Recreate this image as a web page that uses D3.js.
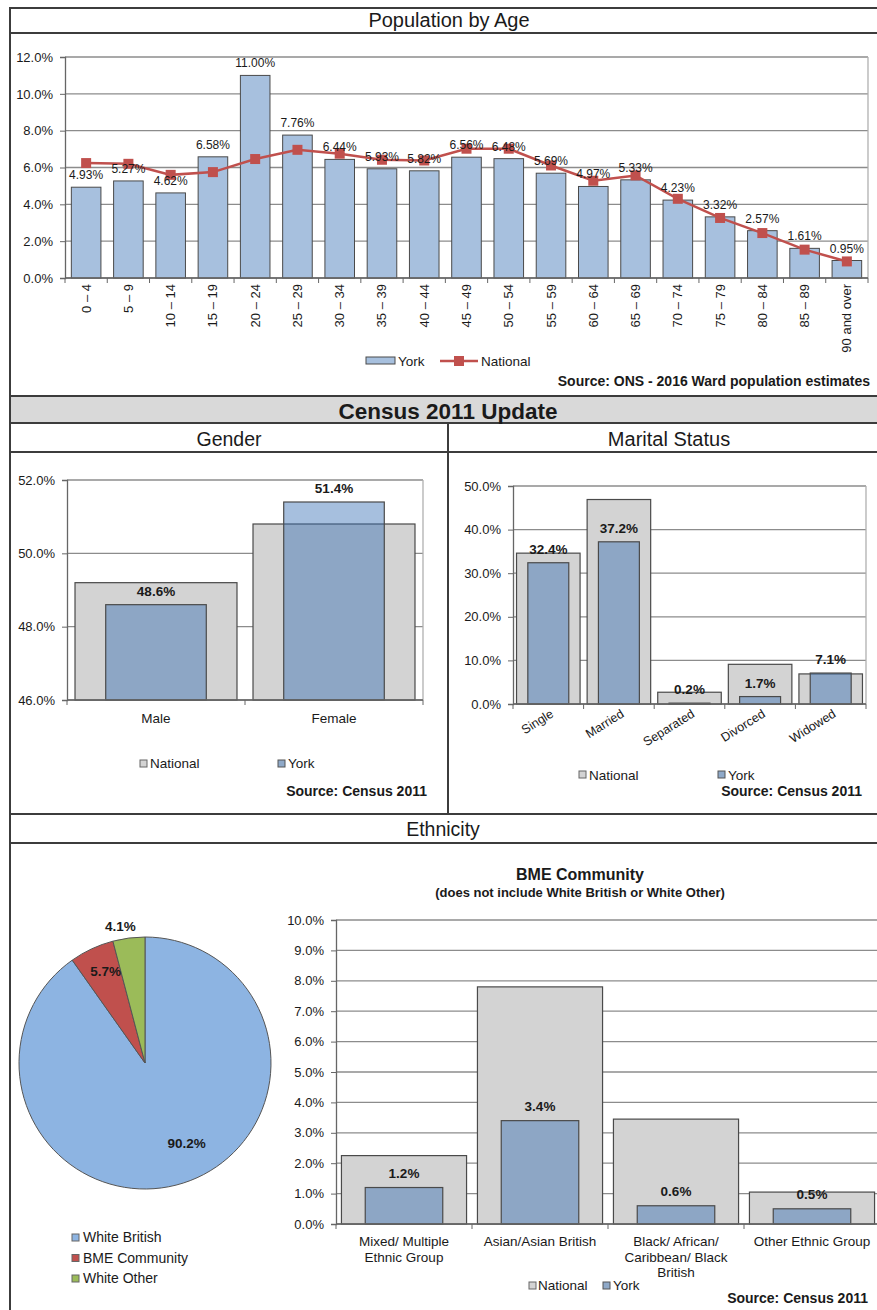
<!DOCTYPE html>
<html><head><meta charset="utf-8">
<script src="https://cdn.jsdelivr.net/npm/d3@7/dist/d3.min.js"></script>
<style>
body{margin:0;background:#fff;}
svg{display:block;font-family:"Liberation Sans",Arial,sans-serif;}
</style></head>
<body>
<svg id="c" width="877" height="1310"></svg>
<script>
// ---------- DATA ----------
const ageGroups = ["0 – 4","5 – 9","10 – 14","15 – 19","20 – 24","25 – 29","30 – 34","35 – 39","40 – 44","45 – 49","50 – 54","55 – 59","60 – 64","65 – 69","70 – 74","75 – 79","80 – 84","85 – 89","90 and over"];
const ageYork = [4.93,5.27,4.62,6.58,11.00,7.76,6.44,5.93,5.82,6.56,6.48,5.69,4.97,5.33,4.23,3.32,2.57,1.61,0.95];
const ageNational = [6.24,6.2,5.6,5.75,6.46,6.96,6.75,6.42,6.38,7.02,7.02,6.11,5.28,5.57,4.3,3.26,2.44,1.54,0.9];
const ageTicks = [0,2,4,6,8,10,12];

const genderCats = ["Male","Female"];
const genderNational = [49.2,50.8];
const genderYork = [48.6,51.4];
const genderTicks = [46,48,50,52];

const maritalCats = ["Single","Married","Separated","Divorced","Widowed"];
const maritalNational = [34.6,46.9,2.7,9.1,6.9];
const maritalYork = [32.4,37.2,0.2,1.7,7.1];
const maritalTicks = [0,10,20,30,40,50];

const ethnicCats = ["White British","BME Community","White Other"];
const ethnicValues = [90.2,5.7,4.1];

const bmeCats = [["Mixed/ Multiple","Ethnic Group"],["Asian/Asian British"],["Black/ African/","Caribbean/ Black","British"],["Other Ethnic Group"]];
const bmeNational = [2.25,7.8,3.45,1.05];
const bmeYork = [1.2,3.4,0.6,0.5];
const bmeTicks = [0,1,2,3,4,5,6,7,8,9,10];

// ---------- STYLE ----------
const FRAME="#3c3c3c", GRID="#8c8c8c", TXT="#1a1a1a";
const GRAY="#d3d3d3", YORK_OVER="rgba(52,109,181,0.44)", BAR_EDGE="#4a4a4a";
const TICK=13, LEG=13.5, SRC=14, LAB=13.5;
const svg = d3.select("#c");
const pct1 = d => d3.format(".1f")(d)+"%";

// ---------- FRAME ----------
const fr = svg.append("g");
fr.append("rect").attr("x",10).attr("y",396).attr("width",880).attr("height",27).attr("fill","#d9d9d9");
function hline(y){fr.append("line").attr("x1",10).attr("x2",890).attr("y1",y).attr("y2",y).attr("stroke",FRAME).attr("stroke-width",2);}
[8,33,396,423,452,814,843].forEach(hline);
fr.append("line").attr("x1",10).attr("x2",10).attr("y1",7).attr("y2",1310).attr("stroke",FRAME).attr("stroke-width",2);
fr.append("line").attr("x1",448).attr("x2",448).attr("y1",423).attr("y2",814).attr("stroke",FRAME).attr("stroke-width",2);
function head(t,x,y,size,bold){svg.append("text").attr("x",x).attr("y",y).attr("text-anchor","middle").attr("font-size",size).attr("font-weight",bold?"bold":"normal").attr("fill",TXT).text(t);}
head("Population by Age",449,27,20,false);
head("Census 2011 Update",448,419,22.5,true);
head("Gender",229,446,19.5,false);
head("Marital Status",669,446,20,false);
head("Ethnicity",443,836,19.5,false);

function txt(g,t,x,y,o={}){return g.append("text").attr("x",x).attr("y",y).attr("text-anchor",o.anchor||"start").attr("font-size",o.size||LEG).attr("font-weight",o.bold?"bold":"normal").attr("fill",TXT).text(t);}

function yAxis(g,y,ticks,x0,x1,fmt){
  g.selectAll(null).data(ticks).join("line").attr("x1",x0).attr("x2",x1).attr("y1",d=>y(d)).attr("y2",d=>y(d)).attr("stroke",GRID).attr("stroke-width",1.3);
  g.append("line").attr("x1",x1).attr("x2",x1).attr("y1",y(ticks[ticks.length-1])).attr("y2",y(ticks[0])).attr("stroke","#b0b0b0").attr("stroke-width",1.3);
  const ax = g.append("g").attr("transform",`translate(${x0},0)`).call(d3.axisLeft(y).tickValues(ticks).tickFormat(fmt).tickSize(5).tickPadding(7));
  ax.select(".domain").attr("stroke","#666").attr("stroke-width",1.3);
  ax.selectAll(".tick line").attr("stroke","#666");
  ax.selectAll("text").attr("font-size",TICK).attr("fill",TXT).attr("font-family","Liberation Sans,Arial,sans-serif");
}
function xBase(g,x,cats,yb,x0,x1){
  g.append("line").attr("x1",x0).attr("x2",x1).attr("y1",yb).attr("y2",yb).attr("stroke","#666").attr("stroke-width",1.3);
  const edges = cats.map(c=>x(c)).concat([x1]);
  g.selectAll(null).data(edges).join("line").attr("x1",d=>d).attr("x2",d=>d).attr("y1",yb).attr("y2",yb+5).attr("stroke","#666");
}

// ---------- POPULATION BY AGE ----------
{
  const g = svg.append("g");
  const x = d3.scaleBand().domain(ageGroups).range([65,868]);
  const y = d3.scaleLinear().domain([0,12]).range([278,57]);
  yAxis(g,y,ageTicks,65,868,d=>d3.format(".1f")(d)+"%");
  const bw = x.bandwidth()*0.7;
  g.selectAll(null).data(ageGroups).join("rect")
    .attr("x",d=>x(d)+x.bandwidth()/2-bw/2).attr("width",bw)
    .attr("y",(d,i)=>y(ageYork[i])).attr("height",(d,i)=>y(0)-y(ageYork[i]))
    .attr("fill","#a7c0de").attr("stroke",BAR_EDGE).attr("stroke-width",1);
  xBase(g,x,ageGroups,278,65,868);
  const line = d3.line().x((d,i)=>x(ageGroups[i])+x.bandwidth()/2).y(d=>y(d));
  g.append("path").datum(ageNational).attr("d",line).attr("fill","none").attr("stroke","#c0504d").attr("stroke-width",2.5);
  g.selectAll(null).data(ageNational).join("rect")
    .attr("x",(d,i)=>x(ageGroups[i])+x.bandwidth()/2-5).attr("y",d=>y(d)-5).attr("width",10).attr("height",10).attr("fill","#c0504d");
  g.selectAll(null).data(ageYork).join("text")
    .attr("x",(d,i)=>x(ageGroups[i])+x.bandwidth()/2).attr("y",d=>y(d)-8)
    .attr("text-anchor","middle").attr("font-size",12).attr("fill",TXT).text(d=>d3.format(".2f")(d)+"%");
  g.selectAll(null).data(ageGroups).join("text")
    .attr("transform",d=>`translate(${x(d)+x.bandwidth()/2+4.5},284) rotate(-90)`)
    .attr("text-anchor","end").attr("font-size",13).attr("fill",TXT).text(d=>d);
  // legend
  g.append("rect").attr("x",366).attr("y",357).attr("width",29).attr("height",7).attr("fill","#a7c0de").attr("stroke",BAR_EDGE);
  txt(g,"York",398,366);
  g.append("line").attr("x1",440).attr("x2",478).attr("y1",361).attr("y2",361).attr("stroke","#c0504d").attr("stroke-width",2.5);
  g.append("rect").attr("x",454).attr("y",356).attr("width",10).attr("height",10).attr("fill","#c0504d");
  txt(g,"National",481,366);
  txt(g,"Source: ONS - 2016 Ward population estimates",870,386,{anchor:"end",size:SRC,bold:true});
}

// ---------- generic overlapped bar chart ----------
function overlap(o){
  const g = svg.append("g");
  const x = d3.scaleBand().domain(d3.range(o.cats.length)).range([o.x0,o.x1]);
  const y = d3.scaleLinear().domain([o.ticks[0],o.ticks[o.ticks.length-1]]).range([o.yb,o.yt]);
  yAxis(g,y,o.ticks,o.x0,o.x1,o.fmt);
  const nw = x.bandwidth()*o.nw, yw = x.bandwidth()*o.yw;
  const cx = i => x(i)+x.bandwidth()/2;
  g.selectAll(null).data(o.nat).join("rect")
    .attr("x",(d,i)=>cx(i)-nw/2).attr("width",nw).attr("y",d=>y(d)).attr("height",d=>o.yb-y(d))
    .attr("fill",GRAY).attr("stroke",BAR_EDGE).attr("stroke-width",1.2);
  g.selectAll(null).data(o.york).join("rect")
    .attr("x",(d,i)=>cx(i)-yw/2).attr("width",yw).attr("y",d=>y(d)).attr("height",d=>o.yb-y(d))
    .attr("fill",YORK_OVER).attr("stroke",BAR_EDGE).attr("stroke-width",1.2);
  xBase(g,i=>x(i),d3.range(o.cats.length),o.yb,o.x0,o.x1);
  g.selectAll(null).data(o.york).join("text")
    .attr("x",(d,i)=>cx(i)).attr("y",d=>y(d)-o.lab)
    .attr("text-anchor","middle").attr("font-size",LAB).attr("font-weight","bold").attr("fill",TXT).text(d=>d3.format(".1f")(d)+"%");
  return {g,x,y,cx};
}

// ---------- GENDER ----------
{
  const r = overlap({cats:genderCats,nat:genderNational,york:genderYork,ticks:genderTicks,x0:67,x1:423,yb:700,yt:480,nw:0.91,yw:0.565,fmt:pct1,lab:9});
  genderCats.forEach((c,i)=>txt(r.g,c,r.cx(i),723,{anchor:"middle"}));
  r.g.append("rect").attr("x",140).attr("y",760).attr("width",7).attr("height",7).attr("fill",GRAY).attr("stroke","#666");
  txt(r.g,"National",150,768);
  r.g.append("rect").attr("x",278).attr("y",760).attr("width",7).attr("height",7).attr("fill","#8fa9c8").attr("stroke","#555");
  txt(r.g,"York",288,768);
  txt(r.g,"Source: Census 2011",427,796,{anchor:"end",size:SRC,bold:true});
}

// ---------- MARITAL ----------
{
  const r = overlap({cats:maritalCats,nat:maritalNational,york:maritalYork,ticks:maritalTicks,x0:513,x1:866,yb:704,yt:486,nw:0.9,yw:0.58,fmt:pct1,lab:9});
  r.g.selectAll(null).data(maritalCats).join("text")
    .attr("transform",(d,i)=>`translate(${r.cx(i)+6},716) rotate(-32)`)
    .attr("text-anchor","end").attr("font-size",12.5).attr("fill",TXT).text(d=>d);
  r.g.append("rect").attr("x",579).attr("y",771).attr("width",7).attr("height",7).attr("fill",GRAY).attr("stroke","#666");
  txt(r.g,"National",589,780);
  r.g.append("rect").attr("x",718).attr("y",771).attr("width",7).attr("height",7).attr("fill","#8fa9c8").attr("stroke","#555");
  txt(r.g,"York",728,780);
  txt(r.g,"Source: Census 2011",862,796,{anchor:"end",size:SRC,bold:true});
}

// ---------- ETHNICITY PIE ----------
{
  const g = svg.append("g").attr("transform","translate(145,1063)");
  const colors = ["#8db4e2","#c0504d","#9bbb59"];
  const pie = d3.pie().sort(null).value(d=>d)(ethnicValues);
  const arc = d3.arc().innerRadius(0).outerRadius(126);
  g.selectAll(null).data(pie).join("path").attr("d",arc).attr("fill",(d,i)=>colors[i]).attr("stroke","#555").attr("stroke-width",1);
  pie.forEach((p,i)=>{
    const k = [0.72,0.79,1.1][i];
    const a = (p.startAngle+p.endAngle)/2 + [-0.17,0.03,-0.05][i];
    const px = Math.sin(a)*126*k, py = -Math.cos(a)*126*k;
    txt(g,d3.format(".1f")(p.value)+"%",px,py+4,{anchor:"middle",size:LAB,bold:true});
  });
  const lg = svg.append("g");
  ethnicCats.forEach((c,i)=>{
    lg.append("rect").attr("x",72).attr("y",1234+i*20.5).attr("width",7).attr("height",7).attr("fill",colors[i]).attr("stroke","#666");
    txt(lg,c,83,1242+i*20.5,{size:14});
  });
}

// ---------- BME ----------
{
  const r = overlap({cats:bmeCats,nat:bmeNational,york:bmeYork,ticks:bmeTicks,x0:336,x1:880,yb:1224,yt:920,nw:0.92,yw:0.57,fmt:pct1,lab:10});
  txt(r.g,"BME Community",580,880,{anchor:"middle",size:16,bold:true});
  txt(r.g,"(does not include White British or White Other)",580,897,{anchor:"middle",size:13,bold:true});
  bmeCats.forEach((lines,i)=>lines.forEach((l,j)=>txt(r.g,l,r.cx(i),1246+j*15.5,{anchor:"middle",size:13.5})));
  r.g.append("rect").attr("x",529).attr("y",1282).attr("width",7).attr("height",7).attr("fill",GRAY).attr("stroke","#666");
  txt(r.g,"National",538,1290);
  r.g.append("rect").attr("x",603).attr("y",1282).attr("width",7).attr("height",7).attr("fill","#8fa9c8").attr("stroke","#555");
  txt(r.g,"York",613,1290);
  txt(r.g,"Source: Census 2011",868,1303,{anchor:"end",size:SRC,bold:true});
}
</script>
</body></html>
